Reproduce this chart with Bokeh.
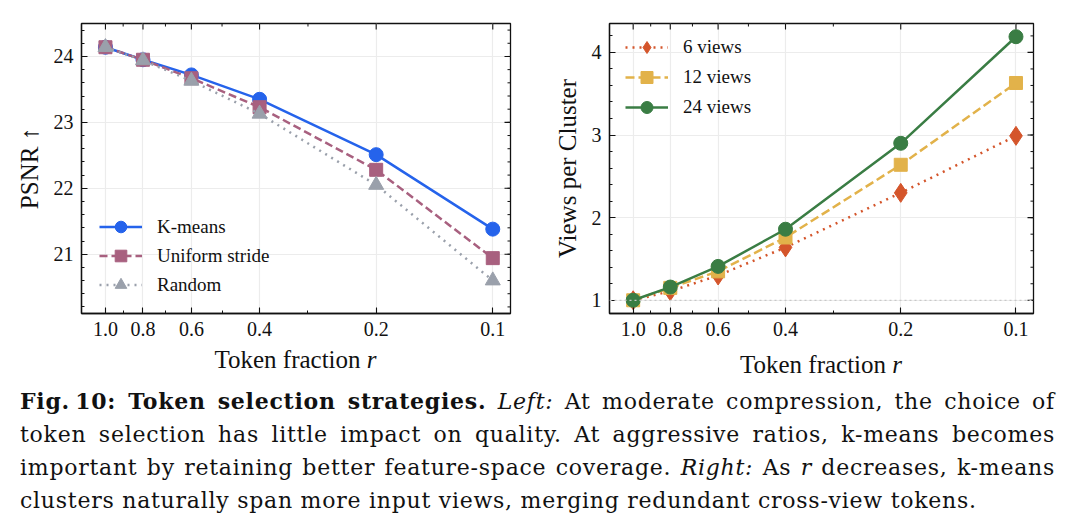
import math
from bokeh.plotting import figure
from bokeh.models import (Range1d, FixedTicker, NumeralTickFormatter, Span, Div)
from bokeh.layouts import column, row
from bokeh.embed import file_html
from bokeh.resources import INLINE

# ---- data -------------------------------------------------------------
fractions = [1.0, 0.8, 0.6, 0.4, 0.2, 0.1]
x_major_ticks = [1.0, 0.8, 0.6, 0.4, 0.2, 0.1]
x_minor_ticks = [0.9, 0.7, 0.5, 0.3]

psnr_kmeans = [24.14, 23.95, 23.72, 23.35, 22.51, 21.38]
psnr_uniform = [24.14, 23.95, 23.67, 23.23, 22.28, 20.94]
psnr_random = [24.14, 23.94, 23.63, 23.13, 22.05, 20.60]
psnr_ticks = [21, 22, 23, 24]

views_6 = [1.00, 1.11, 1.30, 1.64, 2.30, 2.99]
views_12 = [1.00, 1.15, 1.35, 1.76, 2.64, 3.63]
views_24 = [1.00, 1.16, 1.41, 1.86, 2.90, 4.19]
vpc_ticks = [1, 2, 3, 4]

FONT = "Liberation Serif"
INK = "#111111"
GRID = "#ececec"
X_RANGE = (1.153, 0.090)


def minor_steps(lo, hi, step):
    out, v = [], lo
    while v <= hi + 1e-9:
        out.append(round(v, 3))
        v += step
    return out


def style_axis(ax, ticker, formatter=None):
    ax.ticker = ticker
    if formatter is not None:
        ax.formatter = formatter
    ax.axis_line_color = INK
    ax.axis_line_width = 1.3
    ax.major_tick_in = 6
    ax.major_tick_out = 0
    ax.minor_tick_in = 3
    ax.minor_tick_out = 0
    ax.major_tick_line_color = INK
    ax.minor_tick_line_color = INK
    ax.major_tick_line_width = 1.1
    ax.minor_tick_line_width = 1.0
    ax.major_label_text_font = FONT
    ax.major_label_text_font_size = "20px"
    ax.major_label_text_color = INK
    ax.major_label_standoff = 8
    ax.axis_label_text_font = FONT
    ax.axis_label_text_font_size = "25px"
    ax.axis_label_text_font_style = "normal"
    ax.axis_label_text_color = INK
    ax.axis_label_standoff = 8


def mirror_ticks(p, y_major, y_minor, y_hi):
    """Inward ticks on the top and right edges of the frame (the outer half
    of each dash marker is clipped away by the frame)."""
    kw = dict(marker="dash", line_color=INK, fill_color=None)
    p.scatter(x_major_ticks, [y_hi] * len(x_major_ticks), size=12,
              angle=math.pi / 2, line_width=1.1, **kw)
    p.scatter(x_minor_ticks, [y_hi] * len(x_minor_ticks), size=6,
              angle=math.pi / 2, line_width=1.0, **kw)
    p.scatter([X_RANGE[1]] * len(y_major), y_major, size=12,
              line_width=1.1, **kw)
    p.scatter([X_RANGE[1]] * len(y_minor), y_minor, size=6,
              line_width=1.0, **kw)


def make_panel(width, height, borders, y_range, y_major, y_minor, ylabel):
    left, right, top, bottom = borders
    p = figure(width=width, height=height, x_axis_type="log",
               x_range=Range1d(*X_RANGE), y_range=Range1d(*y_range),
               output_backend="svg", toolbar_location=None,
               min_border_left=left, min_border_right=right,
               min_border_top=top, min_border_bottom=bottom)
    p.outline_line_color = INK
    p.outline_line_width = 1.3
    p.background_fill_color = "white"
    p.border_fill_color = "white"

    style_axis(p.xaxis[0], FixedTicker(ticks=x_major_ticks,
                                       minor_ticks=x_minor_ticks),
               NumeralTickFormatter(format="0.0"))
    style_axis(p.yaxis[0], FixedTicker(ticks=y_major, minor_ticks=y_minor))
    p.yaxis[0].axis_label = ylabel

    p.xgrid.ticker = FixedTicker(ticks=x_major_ticks)
    p.ygrid.ticker = FixedTicker(ticks=y_major)
    p.xgrid.grid_line_color = GRID
    p.ygrid.grid_line_color = GRID
    p.xgrid.grid_line_width = 1.2
    p.ygrid.grid_line_width = 1.2

    mirror_ticks(p, y_major, y_minor, y_range[1])
    return p


def x_title(width, left, right, pad_top):
    # "Token fraction r" (italic r) centred under the plot frame;
    # the box is border-box sized, so its width includes the left padding
    return Div(
        text=(f'<div style="font-family: \'{FONT}\', serif; font-size: 25px; '
              f'color: {INK}; text-align: center; line-height: 20px; '
              'box-sizing: border-box; '
              f'width: {width - right}px; padding: {pad_top}px 0 0 {left}px;">'
              'Token fraction <i>r</i></div>'),
        width=width, height=30, margin=0,
    )


def add_series(p, ys, color, dash, marker, size, label):
    p.line(fractions, ys, line_color=color, line_width=2.5, line_dash=dash,
           legend_label=label)
    p.scatter(fractions, ys, marker=marker, size=size,
              fill_color=color, line_color=color, legend_label=label)


def style_legend(p, loc, pitch):
    lg = p.legend[0]
    lg.location = loc
    lg.glyph_width = 43
    lg.glyph_height = pitch
    lg.label_height = pitch
    lg.spacing = 0
    lg.padding = 0
    lg.margin = 0
    lg.label_standoff = 15
    lg.border_line_color = None
    lg.background_fill_alpha = 0
    lg.label_text_font = FONT
    lg.label_text_font_size = "19px"
    lg.label_text_color = INK


# ---- left: PSNR vs token fraction ------------------------------------
p1 = make_panel(530, 350, (81, 20, 23, 37), (20.1, 24.5), psnr_ticks,
                minor_steps(20.2, 24.4, 0.2), "PSNR \u2191")
add_series(p1, psnr_kmeans, "#2563eb", "solid", "circle", 14, "K-means")
add_series(p1, psnr_uniform, "#a8607f", "8 4", "square", 13, "Uniform stride")
add_series(p1, psnr_random, "#9aa0ab", "2 5", "triangle", 15, "Random")
style_legend(p1, (18, 14), 29)

# ---- right: views per cluster -----------------------------------------
p2 = make_panel(547, 350, (79, 44, 19, 34), (0.84, 4.35), vpc_ticks,
                minor_steps(1.0, 4.2, 0.2), "Views per Cluster")
p2.add_layout(Span(location=1, dimension="width", line_color="#c8c8c8",
                   line_width=1.2, line_dash="2 3"))
add_series(p2, views_6, "#d4552b", "2 5", "diamond", 19, "6 views")
add_series(p2, views_12, "#e2b24a", "9 4", "square", 13, "12 views")
add_series(p2, views_24, "#3a7d44", "solid", "circle", 14, "24 views")
style_legend(p2, (16, 191), 30)

titles = row(x_title(530, 81, 20, 0), x_title(547, 79, 44, 5))

# ---- caption ------------------------------------------------------------
caption_lines = [
    "<b>Fig.&thinsp;10: Token selection strategies.</b> <i>Left:</i> At moderate "
    "compression, the choice of",
    "token selection has little impact on quality. At aggressive ratios, "
    "k-means becomes",
    "important by retaining better feature-space coverage. <i>Right:</i> As "
    "<i>r</i> decreases, k-means",
    "clusters naturally span more input views, merging redundant cross-view "
    "tokens.",
]
line_css = ("text-align: justify; text-align-last: justify; "
            "white-space: nowrap; height: 33px; line-height: 33px;")
last_css = "text-align: left; white-space: nowrap; height: 33px; line-height: 33px;"
html = "".join(
    f'<div style="{last_css if i == len(caption_lines) - 1 else line_css}">{t}</div>'
    for i, t in enumerate(caption_lines)
)
caption = Div(
    text=('<div style="font-family: \'DejaVu Serif\', serif; font-size: 22px; '
          f'letter-spacing: 0.75px; color: {INK}; box-sizing: border-box; '
          f'width: 1055px; padding: 5px 0 0 20px;">{html}</div>'),
    width=1077, height=150, margin=0,
)

layout = column(row(p1, p2), titles, caption)
open("out.html", "w").write(file_html(layout, INLINE))
